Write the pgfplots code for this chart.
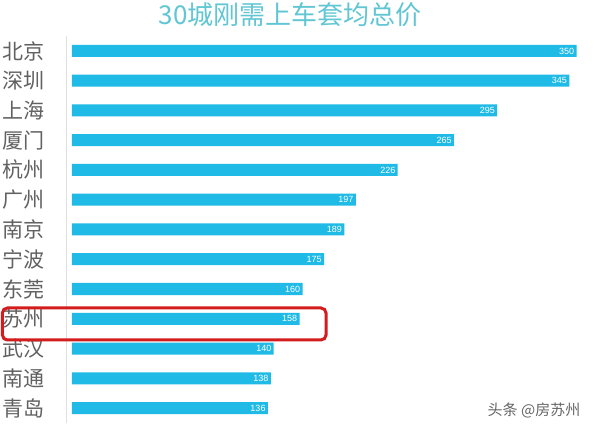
\documentclass[border=0pt]{standalone}
\usepackage{pgfplots}
\pgfplotsset{compat=1.18}
\usepackage{fontspec}
\setsansfont{Liberation Sans}
\newfontfamily\cjk{Noto Sans CJK SC}
\definecolor{barc}{RGB}{32,186,230}
\definecolor{titlec}{RGB}{96,198,212}
\definecolor{boxred}{RGB}{212,28,28}
\pgfplotstableread[col sep=comma]{
idx,val
0,350
1,345
2,295
3,265
4,226
5,197
6,189
7,175
8,160
9,158
10,140
11,138
12,136
}\datatab
\begin{document}
\begin{tikzpicture}
\useasboundingbox[fill=white] (0,0) rectangle (300pt,215.5pt);
\begin{axis}[
  at={(33pt,4.05pt)}, anchor=south west,
  scale only axis, width=263.2pt, height=193.4pt,
  xbar, bar width=6pt,
  xmin=-4, xmax=361,
  ymin=-0.5, ymax=12.5, y dir=reverse,
  axis x line=none,
  axis y line=left, y axis line style={draw=gray!25, -},
  ytick={0,...,12},
  yticklabels={北京,深圳,上海,厦门,杭州,广州,南京,宁波,东莞,苏州,武汉,南通,青岛},
  yticklabel style={font=\cjk\fontsize{10.5}{12}\selectfont, text=black!62, xshift=-7pt},
  major tick length=0pt,
  nodes near coords,
  nodes near coords style={anchor=east, font=\sffamily\fontsize{4.5}{5}\selectfont, text=white, inner sep=1pt, /pgf/number format/assume math mode=true},
  point meta=x,
  clip=false,
]
\addplot[fill=barc, draw=none] table[x=val, y=idx] {\datatab};
\end{axis}
\node[font=\cjk\fontsize{13}{15}\selectfont, text=titlec] at (145pt,208pt) {30城刚需上车套均总价};
\draw[boxred, line width=1.5pt, rounded corners=2.5pt] (1.2pt,45.5pt) rectangle (163pt,61.5pt);
\node[font=\cjk\fontsize{7.5}{9}\selectfont, text=black!60] at (267pt,10.5pt) {头条 @房苏州};
\end{tikzpicture}
\end{document}
